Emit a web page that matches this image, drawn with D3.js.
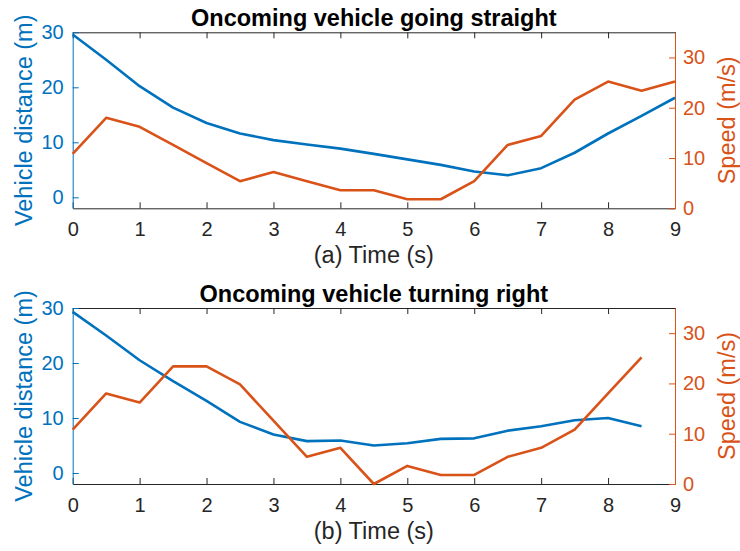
<!DOCTYPE html>
<html>
<head>
<meta charset="utf-8">
<script src="https://cdn.jsdelivr.net/npm/d3@7"></script>
<style>
  body { margin: 0; background: #fff; }
  text { font-family: "Liberation Sans", Arial, Helvetica, sans-serif; }
</style>
</head>
<body>
<script>
// Chart data
var timeA = [0, 0.5, 1, 1.5, 2, 2.5, 3, 3.5, 4, 4.5, 5, 5.5, 6, 6.5, 7, 7.5, 8, 8.5, 9];
var distA = [29.6, 25.0, 20.2, 16.3, 13.5, 11.6, 10.4, 9.6, 8.85, 7.9, 6.9, 5.9, 4.7, 4.0, 5.3, 8.1, 11.6, 14.8, 18.1];
var speedA = [10.8, 18, 16.2, 12.6, 9, 5.4, 7.2, 5.4, 3.6, 3.6, 1.8, 1.8, 5.4, 12.6, 14.4, 21.6, 25.2, 23.4, 25.2];

var timeB = [0, 0.5, 1, 1.5, 2, 2.5, 3, 3.5, 4, 4.5, 5, 5.5, 6, 6.5, 7, 7.5, 8, 8.5];
var distB = [29.3, 25.0, 20.5, 16.7, 13.1, 9.3, 7.0, 5.8, 5.9, 5.0, 5.4, 6.2, 6.3, 7.7, 8.5, 9.6, 10.0, 8.5];
var speedB = [10.8, 18, 16.2, 23.4, 23.4, 19.8, 12.6, 5.4, 7.2, 0, 3.6, 1.8, 1.8, 5.4, 7.2, 10.8, 18, 25.2];

var xTicks = [0, 1, 2, 3, 4, 5, 6, 7, 8, 9];
var leftTicks = [0, 10, 20, 30];
var rightTicks = [0, 10, 20, 30];

var panels = [
  {title: "Oncoming vehicle going straight", xlabel: "(a) Time (s)", t: timeA, dist: distA, speed: speedA},
  {title: "Oncoming vehicle turning right", xlabel: "(b) Time (s)", t: timeB, dist: distB, speed: speedB}
];

// Chart stuff
var width = 740,
    height = 551;
var blue = "#0072BD",
    orange = "#D95319",
    dark = "#262626";

var svg = d3.select("body").append("svg")
    .attr("width", width)
    .attr("height", height);

var left = 72.7, right = 675;
var panelTop = [32.3, 308], panelH = 176;

var x = d3.scaleLinear().domain([0, 9]).range([left, right]);

panels.forEach(function(p, i) {
  var top = panelTop[i], bottom = top + panelH;
  var yL = d3.scaleLinear().domain([-2, 30]).range([bottom, top]);
  var yR = d3.scaleLinear().domain([0, 35]).range([bottom, top]);

  var g = svg.append("g");

  // x axis at bottom with labels, ticks inward
  var xb = g.append("g").attr("transform", "translate(0," + bottom + ")")
    .call(d3.axisBottom(x).tickValues(xTicks).tickSizeInner(-6).tickSizeOuter(0).tickPadding(14));
  // mirrored ticks on top
  var xt = g.append("g").attr("transform", "translate(0," + top + ")")
    .call(d3.axisTop(x).tickValues(xTicks).tickSizeInner(-6).tickSizeOuter(0).tickFormat(""));
  [xb, xt].forEach(function(a) {
    a.select(".domain").attr("stroke", dark);
    a.selectAll(".tick line").attr("stroke", dark);
    a.selectAll("text").attr("fill", dark).style("font-size", "20px");
  });

  // left axis
  var al = g.append("g").attr("transform", "translate(" + left + ",0)")
    .call(d3.axisLeft(yL).tickValues(leftTicks).tickSizeInner(-6).tickSizeOuter(0).tickPadding(9));
  al.select(".domain").attr("stroke", blue);
  al.selectAll(".tick line").attr("stroke", blue);
  al.selectAll("text").attr("fill", blue).style("font-size", "20px");

  // right axis
  var ar = g.append("g").attr("transform", "translate(" + right + ",0)")
    .call(d3.axisRight(yR).tickValues(rightTicks).tickSizeInner(-6).tickSizeOuter(0).tickPadding(8));
  ar.select(".domain").attr("stroke", orange);
  ar.selectAll(".tick line").attr("stroke", orange);
  ar.selectAll("text").attr("fill", orange).style("font-size", "20px");

  // lines
  var distLine = d3.line()
    .x(function(d, j) { return x(p.t[j]); })
    .y(function(d) { return yL(d); });
  var speedLine = d3.line()
    .x(function(d, j) { return x(p.t[j]); })
    .y(function(d) { return yR(d); });

  g.append("path").datum(p.dist)
    .attr("d", distLine)
    .attr("fill", "none")
    .attr("stroke", blue)
    .attr("stroke-width", 2.6)
    .attr("stroke-linejoin", "round");
  g.append("path").datum(p.speed)
    .attr("d", speedLine)
    .attr("fill", "none")
    .attr("stroke", orange)
    .attr("stroke-width", 2.6)
    .attr("stroke-linejoin", "round");

  // title
  g.append("text")
    .attr("x", (left + right) / 2)
    .attr("y", top - 6.3)
    .attr("text-anchor", "middle")
    .style("font-size", "23.5px")
    .style("font-weight", "bold")
    .attr("fill", "#000")
    .text(p.title);

  // x label
  g.append("text")
    .attr("x", (left + right) / 2)
    .attr("y", bottom + 54.7)
    .attr("text-anchor", "middle")
    .style("font-size", "23.5px")
    .attr("fill", dark)
    .text(p.xlabel);

  // y labels
  g.append("text")
    .attr("transform", "translate(31.5," + (top + panelH / 2) + ") rotate(-90)")
    .attr("text-anchor", "middle")
    .style("font-size", "23.5px")
    .attr("fill", blue)
    .text("Vehicle distance (m)");
  g.append("text")
    .attr("transform", "translate(735," + (top + panelH / 2) + ") rotate(-90)")
    .attr("text-anchor", "middle")
    .style("font-size", "23.5px")
    .attr("fill", orange)
    .text("Speed (m/s)");
});
</script>
</body>
</html>
